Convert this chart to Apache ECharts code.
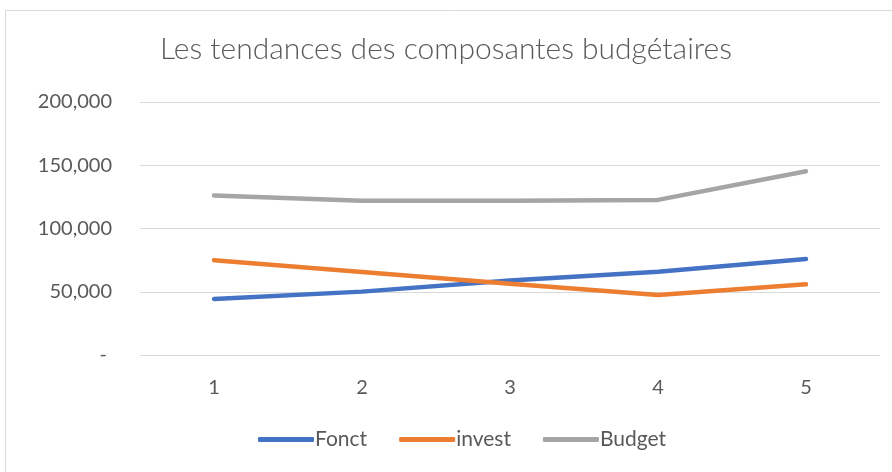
<!DOCTYPE html>
<html>
<head>
<meta charset="utf-8">
<style>
  html, body { margin: 0; padding: 0; background: #fff; }
  #main { width: 892px; height: 472px; }
</style>
<script src="https://cdn.jsdelivr.net/npm/echarts@6/dist/echarts.min.js"></script>
</head>
<body>
<div id="main"></div>
<script>
var categories = ["1", "2", "3", "4", "5"];
var fonct = [44300, 50100, 58800, 65900, 75900];
var invest = [74900, 65600, 56400, 47500, 55900];
var budget = [126000, 122000, 122000, 122600, 145300];

var font = "Lato, 'Open Sans', sans-serif";
var colors = ["#4472C4", "#ED7D31", "#A5A5A5"];

function mkLine(name, data, i) {
	return {
		name: name,
		type: "line",
		data: data,
		symbol: "none",
		smooth: false,
		lineStyle: { width: 4.5, color: colors[i], cap: "round", join: "round" },
		itemStyle: { color: colors[i] }
	};
}

var chart = echarts.init(document.getElementById("main"));
chart.setOption({
	animation: false,
	graphic: [{
		type: "rect",
		shape: { x: 5.5, y: 10.5, width: 900, height: 480 },
		style: { fill: "none", stroke: "#d9d9d9", lineWidth: 1 },
		silent: true
	}],
	title: {
		text: "Les tendances des composantes budgétaires",
		left: "center",
		top: 29,
		textStyle: { fontFamily: font, fontSize: 30, fontWeight: 300, color: "#595959" }
	},
	legend: {
		bottom: 17,
		left: 253,
		itemWidth: 56,
		itemHeight: 5,
		itemGap: 32,
		icon: "roundRect",
		textStyle: { fontFamily: font, fontSize: 21, color: "#595959", padding: [0, 0, 0, -4] },
		data: ["Fonct", "invest", "Budget"]
	},
	grid: { left: 140, right: 12, top: 102, bottom: 117 },
	xAxis: {
		type: "category",
		data: categories,
		boundaryGap: true,
		axisLine: { show: false },
		axisTick: { show: false },
		axisLabel: { fontFamily: font, fontSize: 20, color: "#595959", margin: 23 }
	},
	yAxis: {
		type: "value",
		min: 0,
		max: 200000,
		interval: 50000,
		axisLine: { show: false },
		axisTick: { show: false },
		splitLine: { lineStyle: { color: "#d9d9d9", width: 1 } },
		axisLabel: {
			fontFamily: font, fontSize: 20, color: "#595959", margin: 28,
			formatter: function (v) {
				if (v === 0) return "- ";
				return v.toString().replace(/\B(?=(\d{3})+(?!\d))/g, ",");
			}
		}
	},
	series: [
		mkLine("Fonct", fonct, 0),
		mkLine("invest", invest, 1),
		mkLine("Budget", budget, 2)
	]
});
</script>
</body>
</html>
